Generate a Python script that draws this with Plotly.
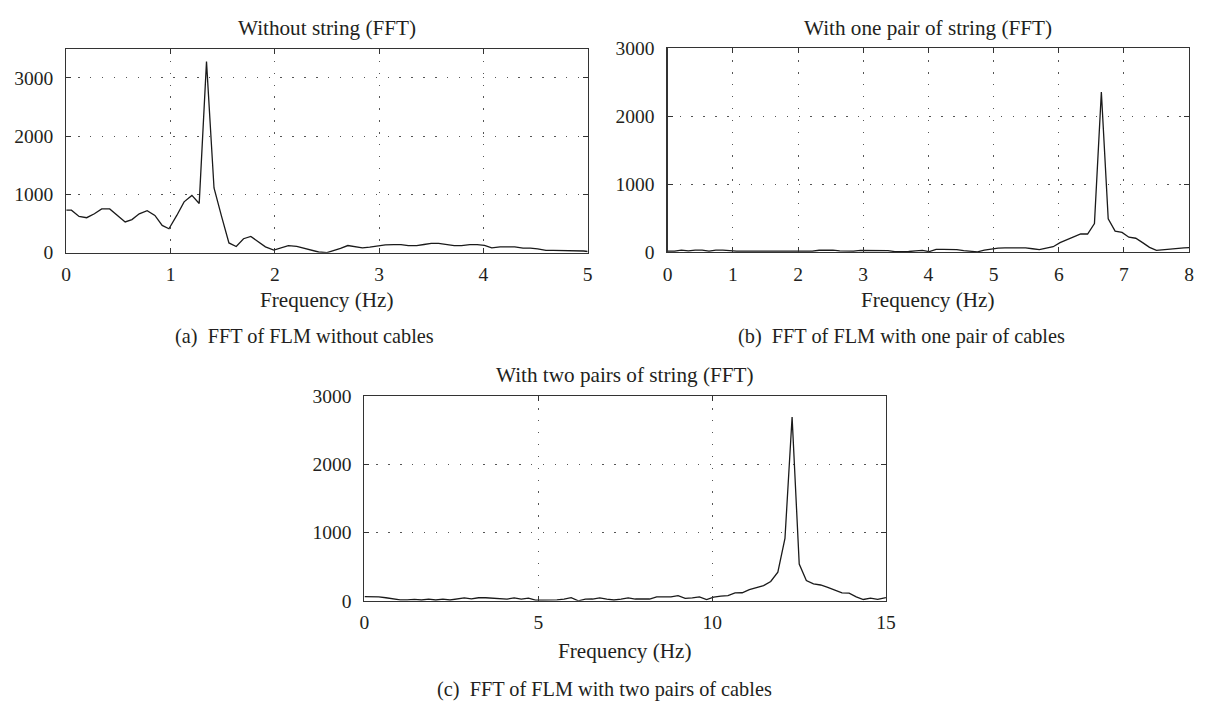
import plotly.graph_objects as go

# ---------------- data ----------------
freq_a = [0, 0.05, 0.123, 0.196, 0.27, 0.34, 0.417, 0.49, 0.565, 0.63, 0.70, 0.776, 0.85, 0.92, 0.985,
          1.06, 1.13, 1.205, 1.275, 1.345, 1.417, 1.49, 1.56, 1.63, 1.70, 1.77, 1.84, 1.91, 1.99,
          2.06, 2.13, 2.21, 2.28, 2.35, 2.42, 2.50, 2.56, 2.63, 2.70, 2.77, 2.84, 2.91, 2.98,
          3.06, 3.14, 3.21, 3.28, 3.36, 3.43, 3.50, 3.57, 3.65, 3.72, 3.79, 3.87, 3.94,
          4.01, 4.08, 4.16, 4.23, 4.30, 4.38, 4.45, 4.52, 4.60, 4.67, 4.74, 4.81, 4.89, 4.96, 5.0]
amp_a = [730, 730, 622, 600, 667, 750, 750, 639, 528, 567, 667, 722, 639, 467, 411,
         639, 872, 983, 844, 3280, 1111, 620, 167, 106, 239, 278, 194, 100, 44,
         83, 122, 106, 78, 39, 11, 0, 28, 72, 122, 100, 83, 94, 111,
         133, 139, 139, 122, 120, 140, 160, 160, 140, 122, 122, 139, 139,
         125, 83, 100, 100, 100, 78, 78, 65, 39, 39, 39, 39, 39, 28, 20]

freq_b = [0.0, 0.106, 0.211, 0.317, 0.422, 0.528, 0.634, 0.739, 0.845, 0.95, 1.056, 1.162, 1.267,
          1.373, 1.478, 1.584, 1.69, 1.795, 1.901, 2.006, 2.112, 2.218, 2.323, 2.429, 2.534, 2.64,
          2.746, 2.851, 2.957, 3.062, 3.168, 3.274, 3.379, 3.485, 3.59, 3.696, 3.802, 3.907, 4.013,
          4.118, 4.224, 4.33, 4.435, 4.541, 4.646, 4.752, 4.858, 4.963, 5.069, 5.174, 5.28, 5.386,
          5.491, 5.597, 5.702, 5.808, 5.914, 6.019, 6.125, 6.23, 6.336, 6.442, 6.547, 6.653, 6.758,
          6.864, 6.97, 7.075, 7.181, 7.286, 7.392, 7.498, 7.603, 7.709, 7.814, 7.92, 8.0]
amp_b = [15, 15, 30, 18, 30, 30, 15, 30, 30, 18, 15, 15, 14, 15, 15, 14, 15, 15, 14, 15, 15, 15,
         28, 30, 30, 18, 15, 15, 25, 25, 25, 25, 24, 8, 8, 10, 20, 25, 8, 40, 40, 40, 38, 23, 15,
         5, 30, 45, 60, 62, 62, 62, 62, 50, 37, 60, 80, 140, 185, 225, 267, 267, 420, 2357, 492,
         310, 290, 220, 205, 140, 70, 25, 37, 45, 50, 62, 66]

freq_c = [0.0, 0.205, 0.41, 0.615, 0.82, 1.025, 1.23, 1.435, 1.64, 1.845, 2.05, 2.255, 2.46, 2.665,
          2.87, 3.075, 3.28, 3.485, 3.69, 3.895, 4.1, 4.305, 4.51, 4.715, 4.92, 5.125, 5.33, 5.535,
          5.74, 5.945, 6.15, 6.355, 6.56, 6.765, 6.97, 7.175, 7.38, 7.585, 7.79, 7.995, 8.2, 8.405,
          8.61, 8.815, 9.02, 9.225, 9.43, 9.635, 9.84, 10.045, 10.25, 10.455, 10.66, 10.865, 11.07,
          11.275, 11.48, 11.685, 11.89, 12.095, 12.3, 12.505, 12.71, 12.915, 13.12, 13.325, 13.53,
          13.735, 13.94, 14.145, 14.35, 14.555, 14.76, 14.965, 15.0]
amp_c = [60, 60, 58, 45, 25, 12, 12, 20, 12, 24, 12, 24, 12, 28, 43, 28, 45, 45, 40, 26, 26, 43,
         26, 40, 10, 10, 10, 12, 25, 45, 0, 24, 26, 43, 26, 12, 25, 42, 26, 26, 26, 58, 58, 58,
         75, 36, 42, 58, 19, 55, 68, 77, 115, 118, 163, 198, 222, 283, 420, 915, 2695, 540, 297,
         248, 232, 198, 160, 115, 112, 58, 19, 38, 22, 40, 48]

titles = ["Without string (FFT)", "With one pair of string (FFT)", "With two pairs of string (FFT)"]
captions = ["(a)\u2002FFT of FLM without cables", "(b)\u2002FFT of FLM with one pair of cables",
            "(c)\u2002FFT of FLM with two pairs of cables"]
xlabel = "Frequency (Hz)"
x_ranges = [[0, 5], [0, 8], [0, 15]]
x_ticks = [[0, 1, 2, 3, 4, 5], [0, 1, 2, 3, 4, 5, 6, 7, 8], [0, 5, 10, 15]]
y_ranges = [[0, 3500], [0, 3000], [0, 3000]]
y_ticks = [0, 1000, 2000, 3000]

# ---------------- layout geometry ----------------
W, H = 1212, 714
FONT = "Liberation Serif"
TXT = "#231f20"
FS_TICK = 19.5
FS_TITLE = 21.2
FS_LABEL = 21.2
FS_CAP = 20.3

def px_x(p):
    return p / W

def px_y(p):
    return 1 - p / H

panels = [
    dict(x0=62, x1=590, y0=40, y1=250, title_y=18.5, label_y=298.5),
    dict(x0=671, x1=1199, y0=39.5, y1=249.5, title_y=18.5, label_y=298.5),
    dict(x0=364, x1=892, y0=398, y1=608.7, title_y=376, label_y=660),
]

fig = go.Figure()
series = [(freq_a, amp_a), (freq_b, amp_b), (freq_c, amp_c)]
for i, (fx, fy) in enumerate(series):
    sfx = "" if i == 0 else str(i + 1)
    fig.add_trace(go.Scatter(x=fx, y=fy, mode="lines", xaxis="x" + sfx, yaxis="y" + sfx,
                             line=dict(color="#1a1a1a", width=1.3), showlegend=False,
                             hoverinfo="skip"))

axis_common = dict(
    showline=True, linecolor="#333333", linewidth=1.2, mirror="ticks",
    ticks="inside", ticklen=5, tickwidth=1, tickcolor="#333333",
    showgrid=True, gridcolor="#555555", gridwidth=1, griddash="1.4px,10.5px",
    zeroline=False, tickfont=dict(family=FONT, size=FS_TICK, color=TXT),
)

annotations = []
for i, p in enumerate(panels):
    sfx = "" if i == 0 else str(i + 1)
    fig.update_layout(**{
        "xaxis" + sfx: dict(axis_common, domain=[px_x(p["x0"]), px_x(p["x1"])],
                            range=x_ranges[i], tickvals=x_ticks[i],
                            anchor="y" + sfx, ticklabelstandoff=4),
        "yaxis" + sfx: dict(axis_common, domain=[px_y(p["y1"]), px_y(p["y0"])],
                            range=y_ranges[i], tickvals=y_ticks,
                            anchor="x" + sfx, ticklabelstandoff=8),
    })
    cx = (p["x0"] + p["x1"]) / 2
    annotations.append(dict(text=titles[i], x=px_x(cx), y=px_y(p["title_y"]),
                            xref="paper", yref="paper", showarrow=False,
                            xanchor="center", yanchor="middle",
                            font=dict(family=FONT, size=FS_TITLE, color=TXT)))
    annotations.append(dict(text=xlabel, x=px_x(cx), y=px_y(p["label_y"]),
                            xref="paper", yref="paper", showarrow=False,
                            xanchor="center", yanchor="middle",
                            font=dict(family=FONT, size=FS_LABEL, color=TXT)))

cap_pos = [(303, 336), (908, 336), (607, 700)]
for i, (cx, cy) in enumerate(cap_pos):
    annotations.append(dict(text=captions[i], x=px_x(cx), y=px_y(cy),
                            xref="paper", yref="paper", showarrow=False,
                            xanchor="center", yanchor="middle",
                            font=dict(family=FONT, size=FS_CAP, color=TXT)))

fig.update_layout(width=W, height=H, margin=dict(l=0, r=0, t=0, b=0),
                  paper_bgcolor="white", plot_bgcolor="white",
                  annotations=annotations, showlegend=False)

fig.write_html("out.html", config={"displayModeBar": False, "staticPlot": True},
               post_script="document.body.style.margin='0';document.body.style.overflow='hidden';")
